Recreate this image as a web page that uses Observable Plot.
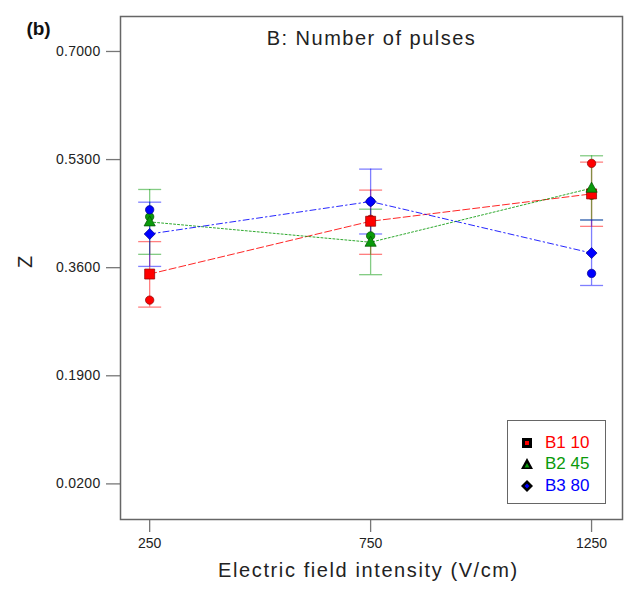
<!DOCTYPE html>
<html>
<head>
<meta charset="utf-8">
<script src="https://cdn.jsdelivr.net/npm/d3@7"></script>
<script src="https://cdn.jsdelivr.net/npm/@observablehq/plot@0.6"></script>
<style>
  html, body { margin: 0; padding: 0; background: #fff; }
  #wrap { position: relative; width: 627px; height: 589px; font-family: "Liberation Sans", Arial, sans-serif; }
  #legend { position: absolute; left: 507px; top: 420px; width: 99px; height: 84px; box-sizing: border-box;
            border: 1.5px solid #666; background: #fff; }
  .lg-row { position: absolute; left: 0; height: 20px; display: flex; align-items: center; }
  .lg-row svg { position: absolute; left: 13px; }
  .lg-row span { position: absolute; left: 37px; font-size: 17px; white-space: nowrap; line-height: 20px; }
</style>
</head>
<body>
<div id="wrap"></div>
<script>
// ---- data ----
const xValues = [250, 750, 1250];
const xTicks = [250, 750, 1250];
const yTicks = [0.02, 0.19, 0.36, 0.53, 0.70];
const seriesNames = ["B1 10", "B2 45", "B3 80"];
const seriesColors = ["#ff0000", "#0a9a0a", "#0000ff"];
const seriesDark = ["#8a0000", "#004d00", "#00008a"];

// predicted means (connected by lines)
const b1Mean = [0.350, 0.433, 0.476];
const b2Mean = [0.432, 0.400, 0.485];
const b3Mean = [0.413, 0.464, 0.383];
// LSD bar bounds
const b1Low = [0.298, 0.381, 0.425];
const b1High = [0.401, 0.482, 0.526];
const b2Low = [0.381, 0.349, 0.435];
const b2High = [0.483, 0.452, 0.536];
const b3Low = [0.362, 0.413, 0.332];
const b3High = [0.463, 0.515, 0.435];
// actual design points (circles)
const b1Actual = [0.309, 0.436, 0.524];
const b2Actual = [0.440, 0.410, 0.474];
const b3Actual = [0.451, 0.464, 0.351];

const titleText = "B: Number of pulses";
const panelText = "(b)";
const xLabel = "Electric field intensity (V/cm)";
const yLabel = "Z";

// ---- build table ----
const means = [b1Mean, b2Mean, b3Mean];
const lows = [b1Low, b2Low, b3Low];
const highs = [b1High, b2High, b3High];
const actuals = [b1Actual, b2Actual, b3Actual];
const rows = [];
seriesNames.forEach((s, k) => xValues.forEach((x, i) => rows.push({
  series: s, k, x, mean: means[k][i], low: lows[k][i], high: highs[k][i], actual: actuals[k][i]
})));

// custom symbols where r == Plot's r
const rOf = size => Math.sqrt(size / Math.PI);
const symSquare = {draw(c, size) { const r = rOf(size); c.rect(-r, -r, 2 * r, 2 * r); }};
const symTriangle = {draw(c, size) { const r = rOf(size); const h = r * 1.8;
  c.moveTo(0, -h * 0.6); c.lineTo(r, h * 0.4); c.lineTo(-r, h * 0.4); c.closePath(); }};
const symDiamond = {draw(c, size) { const r = rOf(size);
  c.moveTo(0, -r); c.lineTo(r, 0); c.lineTo(0, r); c.lineTo(-r, 0); c.closePath(); }};
const symCap = {draw(c) { c.moveTo(-11.5, 0); c.lineTo(11.5, 0); }};
const symbols = [symSquare, symTriangle, symDiamond];
const symR = [5.0, 5.6, 5.5];
const dashes = ["7,3", "2,2", "6,3,1.5,3"];

const marks = [];
// LSD bars
seriesNames.forEach((s, k) => {
  const d = rows.filter(r => r.k === k);
  marks.push(Plot.ruleX(d, {x: "x", y1: "low", y2: "high", stroke: seriesColors[k], strokeOpacity: 0.5, strokeWidth: 1.3}));
  marks.push(Plot.dot(d, {x: "x", y: "low", symbol: symCap, r: 1, stroke: seriesColors[k], strokeOpacity: 0.5, strokeWidth: 1.3}));
  marks.push(Plot.dot(d, {x: "x", y: "high", symbol: symCap, r: 1, stroke: seriesColors[k], strokeOpacity: 0.5, strokeWidth: 1.3}));
});
// lines
seriesNames.forEach((s, k) => {
  const d = rows.filter(r => r.k === k);
  marks.push(Plot.line(d, {x: "x", y: "mean", stroke: seriesColors[k], strokeWidth: 1, strokeOpacity: 0.85, strokeDasharray: dashes[k]}));
});
// actual points
seriesNames.forEach((s, k) => {
  const d = rows.filter(r => r.k === k);
  marks.push(Plot.dot(d, {x: "x", y: "actual", r: 4.2, fill: seriesColors[k], stroke: seriesDark[k], strokeWidth: 0.7}));
});
// mean markers
seriesNames.forEach((s, k) => {
  const d = rows.filter(r => r.k === k);
  marks.push(Plot.dot(d, {x: "x", y: "mean", r: symR[k], symbol: symbols[k], fill: seriesColors[k], stroke: seriesDark[k], strokeWidth: 0.7}));
});

const tickMarksX = Plot.axisTickX
  ? Plot.axisTickX({ticks: xTicks, tickSize: 13, stroke: "#777", strokeWidth: 1.3})
  : Plot.axisX({ticks: xTicks, tickSize: 13, tickFormat: () => "", stroke: "#777", strokeWidth: 1.3, label: null});
const tickMarksY = Plot.axisTickY
  ? Plot.axisTickY({ticks: yTicks, tickSize: 14, stroke: "#777", strokeWidth: 1.3})
  : Plot.axisY({ticks: yTicks, tickSize: 14, tickFormat: () => "", stroke: "#777", strokeWidth: 1.3, label: null});

const chart = Plot.plot({
  width: 627, height: 589,
  marginLeft: 120, marginRight: 5, marginTop: 16, marginBottom: 70,
  style: {fontFamily: "'Liberation Sans', Arial, sans-serif", fontSize: "14px", color: "#222", background: "#fff"},
  x: {domain: [184, 1320], axis: null},
  y: {domain: [-0.036, 0.755], axis: null},
  marks: [
    tickMarksX,
    tickMarksY,
    Plot.text(yTicks, {y: d => d, text: d3.format(".4f"), frameAnchor: "left", dx: -20, textAnchor: "end", fontSize: 14, fill: "#222"}),
    Plot.text(xTicks, {x: d => d, text: d => String(d), frameAnchor: "bottom", dy: 28, fontSize: 14, fill: "#222"}),
    ...marks,
    Plot.frame({stroke: "#666", strokeWidth: 1.5}),
    Plot.text([titleText], {frameAnchor: "top", dy: 14, fontSize: 20, fill: "#222"}),
    Plot.text([panelText], {frameAnchor: "top-left", dx: -82, dy: 5, textAnchor: "middle", fontSize: 19, fontWeight: "bold", fill: "#111"}),
    Plot.text([xLabel], {frameAnchor: "bottom", dx: -3, dy: 57, fontSize: 20, fill: "#222"}),
    Plot.text([yLabel], {frameAnchor: "left", dx: -95, rotate: -90, fontSize: 20, fill: "#222"})
  ]
});

chart.querySelectorAll("text").forEach(t => {
  const s = t.textContent;
  if (s === titleText) t.setAttribute("letter-spacing", "1.5");
  if (s === xLabel) t.setAttribute("letter-spacing", "1.6");
  if (/^0\.\d{4}$/.test(s)) t.setAttribute("letter-spacing", "0.3");
});

const wrap = document.getElementById("wrap");
wrap.appendChild(chart);

// legend
const legend = document.createElement("div");
legend.id = "legend";
const rowTops = [12, 33, 55];
const legendShapes = [
  (c) => `<rect x="1" y="1" width="10" height="10" fill="#000"/><rect x="4" y="4" width="4" height="4" fill="${c}"/>`,
  (c) => `<path d="M6,0 L12,11 L0,11 Z" fill="#000"/><path d="M6,5 L8.5,9.5 L3.5,9.5 Z" fill="${c}"/>`,
  (c) => `<path d="M6,0 L12,6 L6,12 L0,6 Z" fill="#000"/><path d="M6,3.5 L8.5,6 L6,8.5 L3.5,6 Z" fill="${c}"/>`
];
seriesNames.forEach((s, k) => {
  const row = document.createElement("div");
  row.className = "lg-row";
  row.style.top = rowTops[k] + "px";
  row.innerHTML = `<svg width="12" height="12" style="top:4px">${legendShapes[k](seriesColors[k])}</svg><span style="color:${seriesColors[k]}">${s}</span>`;
  legend.appendChild(row);
});
wrap.appendChild(legend);
</script>
</body>
</html>
